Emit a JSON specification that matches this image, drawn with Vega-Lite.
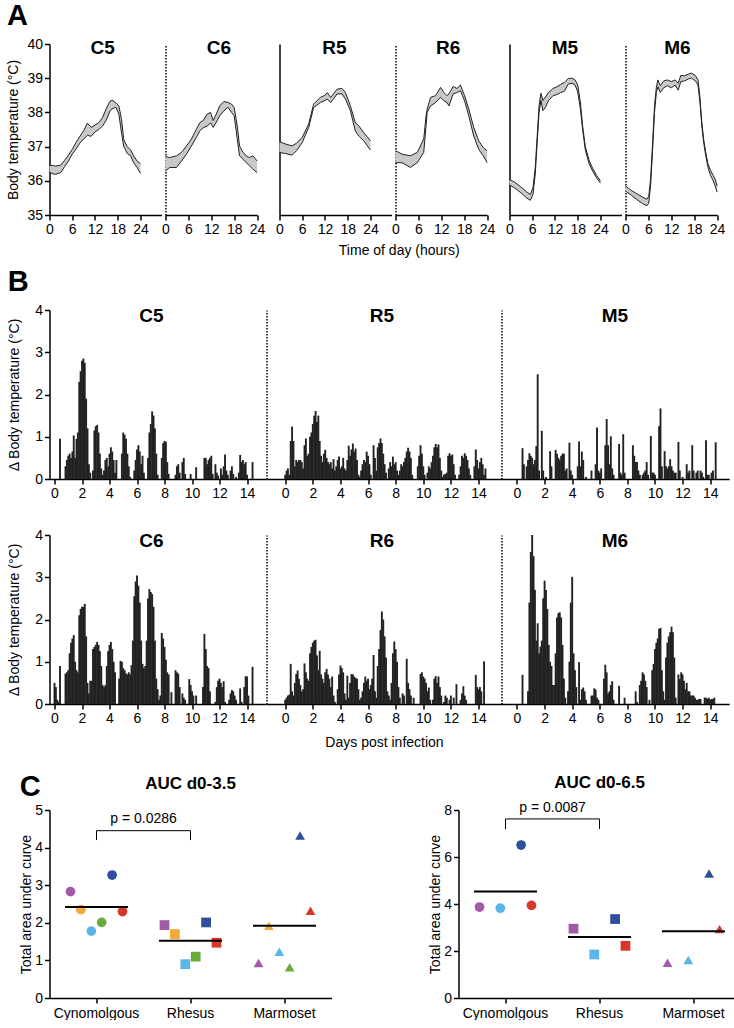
{
"$schema": "https://vega.github.io/schema/vega-lite/v6.json",
"background": "white",
"padding": {"left": 6.5, "top": 2, "right": 0, "bottom": 0},
"config": {
  "font": "Liberation Sans",
  "view": {"stroke": null},
  "axis": {"grid": false, "domainColor": "#000", "domainWidth": 1.5, "tickColor": "#000", "tickWidth": 1.5, "tickSize": 5, "labelColor": "#000", "labelFontSize": 14, "labelFont": "Liberation Sans", "titleFont": "Liberation Sans", "titleFontSize": 14, "titleFontWeight": "normal", "titleColor": "#000", "labelPadding": 2, "labelFlush": false, "labelOverlap": false},
  "title": {"font": "Liberation Sans", "fontWeight": "bold", "color": "#000"},
  "text": {"font": "Liberation Sans", "color": "#000"}
},
"datasets": {
"ta": [
{"p":"C5","h":0,"lo":36.25,"hi":36.45},{"p":"C5","h":1,"lo":36.2,"hi":36.45},{"p":"C5","h":1.6,"lo":36.19,"hi":36.43},{"p":"C5","h":3,"lo":36.24,"hi":36.46},{"p":"C5","h":4,"lo":36.42,"hi":36.6},{"p":"C5","h":5,"lo":36.58,"hi":36.75},{"p":"C5","h":6,"lo":36.78,"hi":36.92},{"p":"C5","h":7,"lo":36.93,"hi":37.12},{"p":"C5","h":8,"lo":37.1,"hi":37.3},{"p":"C5","h":9,"lo":37.22,"hi":37.46},{"p":"C5","h":10,"lo":37.33,"hi":37.69},{"p":"C5","h":11,"lo":37.3,"hi":37.56},{"p":"C5","h":12,"lo":37.43,"hi":37.63},{"p":"C5","h":13,"lo":37.5,"hi":37.7},{"p":"C5","h":14,"lo":37.6,"hi":37.85},{"p":"C5","h":15,"lo":37.78,"hi":38.12},{"p":"C5","h":16,"lo":38.05,"hi":38.33},{"p":"C5","h":16.5,"lo":38.1,"hi":38.36},{"p":"C5","h":17.5,"lo":38.15,"hi":38.28},{"p":"C5","h":18.3,"lo":37.95,"hi":38.19},{"p":"C5","h":19,"lo":37.4,"hi":37.8},{"p":"C5","h":19.6,"lo":37.0,"hi":37.2},{"p":"C5","h":20.5,"lo":36.8,"hi":37.0},{"p":"C5","h":21.4,"lo":36.73,"hi":36.9},{"p":"C5","h":22.2,"lo":36.53,"hi":36.73},{"p":"C5","h":23.1,"lo":36.39,"hi":36.58},{"p":"C5","h":24,"lo":36.22,"hi":36.5},
{"p":"C6","h":0,"lo":36.29,"hi":36.71},{"p":"C6","h":1.1,"lo":36.39,"hi":36.68},{"p":"C6","h":2.9,"lo":36.39,"hi":36.73},{"p":"C6","h":4.2,"lo":36.58,"hi":36.83},{"p":"C6","h":5.5,"lo":36.78,"hi":37.02},{"p":"C6","h":6.8,"lo":37.02,"hi":37.22},{"p":"C6","h":8.1,"lo":37.27,"hi":37.51},{"p":"C6","h":9,"lo":37.46,"hi":37.7},{"p":"C6","h":10,"lo":37.56,"hi":37.78},{"p":"C6","h":10.9,"lo":37.6,"hi":37.95},{"p":"C6","h":11.8,"lo":37.69,"hi":38.0},{"p":"C6","h":12.5,"lo":37.56,"hi":37.76},{"p":"C6","h":13.3,"lo":37.71,"hi":37.95},{"p":"C6","h":14.2,"lo":37.9,"hi":38.19},{"p":"C6","h":15.3,"lo":38.05,"hi":38.32},{"p":"C6","h":16.4,"lo":38.15,"hi":38.29},{"p":"C6","h":17.3,"lo":38.0,"hi":38.24},{"p":"C6","h":18,"lo":37.9,"hi":38.14},{"p":"C6","h":18.8,"lo":37.22,"hi":37.6},{"p":"C6","h":19.4,"lo":36.73,"hi":37.02},{"p":"C6","h":20.3,"lo":36.63,"hi":36.83},{"p":"C6","h":21.2,"lo":36.53,"hi":36.73},{"p":"C6","h":22,"lo":36.44,"hi":36.68},{"p":"C6","h":22.9,"lo":36.34,"hi":36.73},{"p":"C6","h":24,"lo":36.24,"hi":36.58},
{"p":"R5","h":0,"lo":36.83,"hi":37.14},{"p":"R5","h":1.5,"lo":36.8,"hi":37.08},{"p":"R5","h":3.3,"lo":36.75,"hi":37.02},{"p":"R5","h":4.5,"lo":36.88,"hi":37.1},{"p":"R5","h":6,"lo":37.12,"hi":37.27},{"p":"R5","h":7.7,"lo":37.56,"hi":37.66},{"p":"R5","h":9,"lo":38.14,"hi":38.24},{"p":"R5","h":10.8,"lo":38.29,"hi":38.44},{"p":"R5","h":12,"lo":38.35,"hi":38.5},{"p":"R5","h":12.6,"lo":38.39,"hi":38.58},{"p":"R5","h":13.5,"lo":38.29,"hi":38.44},{"p":"R5","h":14.3,"lo":38.4,"hi":38.55},{"p":"R5","h":15.2,"lo":38.54,"hi":38.68},{"p":"R5","h":16.5,"lo":38.54,"hi":38.7},{"p":"R5","h":17.4,"lo":38.39,"hi":38.58},{"p":"R5","h":18.7,"lo":38.05,"hi":38.19},{"p":"R5","h":20,"lo":37.46,"hi":37.7},{"p":"R5","h":20.9,"lo":37.31,"hi":37.61},{"p":"R5","h":22.2,"lo":37.17,"hi":37.41},{"p":"R5","h":24,"lo":36.9,"hi":37.17},
{"p":"R6","h":0,"lo":36.53,"hi":36.88},{"p":"R6","h":1.7,"lo":36.53,"hi":36.78},{"p":"R6","h":3.9,"lo":36.39,"hi":36.73},{"p":"R6","h":5.7,"lo":36.53,"hi":36.83},{"p":"R6","h":7.4,"lo":36.83,"hi":37.22},{"p":"R6","h":8,"lo":37.6,"hi":37.9},{"p":"R6","h":8.3,"lo":38.0,"hi":38.1},{"p":"R6","h":9.2,"lo":38.19,"hi":38.44},{"p":"R6","h":10.5,"lo":38.29,"hi":38.49},{"p":"R6","h":11.8,"lo":38.44,"hi":38.73},{"p":"R6","h":12.7,"lo":38.34,"hi":38.58},{"p":"R6","h":13.5,"lo":38.29,"hi":38.49},{"p":"R6","h":14,"lo":38.19,"hi":38.54},{"p":"R6","h":15.1,"lo":38.54,"hi":38.76},{"p":"R6","h":16.1,"lo":38.58,"hi":38.7},{"p":"R6","h":17,"lo":38.63,"hi":38.8},{"p":"R6","h":18.1,"lo":38.34,"hi":38.49},{"p":"R6","h":19.2,"lo":37.9,"hi":38.1},{"p":"R6","h":20.5,"lo":37.31,"hi":37.56},{"p":"R6","h":21.8,"lo":36.92,"hi":37.17},{"p":"R6","h":23,"lo":36.73,"hi":36.97},{"p":"R6","h":24,"lo":36.53,"hi":36.88},
{"p":"M5","h":0,"lo":35.88,"hi":36.04},{"p":"M5","h":1.5,"lo":35.78,"hi":35.95},{"p":"M5","h":3,"lo":35.65,"hi":35.82},{"p":"M5","h":4.5,"lo":35.5,"hi":35.68},{"p":"M5","h":5.5,"lo":35.43,"hi":35.6},{"p":"M5","h":6.2,"lo":35.6,"hi":35.8},{"p":"M5","h":6.8,"lo":36.2,"hi":36.4},{"p":"M5","h":7.3,"lo":37.1,"hi":37.3},{"p":"M5","h":7.8,"lo":38.0,"hi":38.2},{"p":"M5","h":8.3,"lo":38.35,"hi":38.56},{"p":"M5","h":8.8,"lo":38.05,"hi":38.35},{"p":"M5","h":9.5,"lo":38.15,"hi":38.45},{"p":"M5","h":10.3,"lo":38.35,"hi":38.58},{"p":"M5","h":11.5,"lo":38.49,"hi":38.7},{"p":"M5","h":12.5,"lo":38.52,"hi":38.75},{"p":"M5","h":13.5,"lo":38.58,"hi":38.82},{"p":"M5","h":14.5,"lo":38.62,"hi":38.88},{"p":"M5","h":15.5,"lo":38.83,"hi":38.99},{"p":"M5","h":16.5,"lo":38.85,"hi":39.0},{"p":"M5","h":17.3,"lo":38.8,"hi":38.95},{"p":"M5","h":18,"lo":38.6,"hi":38.8},{"p":"M5","h":18.7,"lo":38.1,"hi":38.3},{"p":"M5","h":19.3,"lo":37.5,"hi":37.6},{"p":"M5","h":20,"lo":36.9,"hi":37.0},{"p":"M5","h":21,"lo":36.5,"hi":36.6},{"p":"M5","h":22,"lo":36.27,"hi":36.35},{"p":"M5","h":23,"lo":36.08,"hi":36.15},{"p":"M5","h":24,"lo":35.93,"hi":36.0},
{"p":"M6","h":0,"lo":35.7,"hi":35.85},{"p":"M6","h":1.5,"lo":35.58,"hi":35.72},{"p":"M6","h":3,"lo":35.45,"hi":35.62},{"p":"M6","h":4.5,"lo":35.33,"hi":35.52},{"p":"M6","h":5.6,"lo":35.27,"hi":35.46},{"p":"M6","h":6.1,"lo":35.35,"hi":35.55},{"p":"M6","h":6.6,"lo":35.9,"hi":36.1},{"p":"M6","h":7.1,"lo":36.9,"hi":37.1},{"p":"M6","h":7.6,"lo":38.0,"hi":38.2},{"p":"M6","h":8.1,"lo":38.6,"hi":38.75},{"p":"M6","h":8.5,"lo":38.75,"hi":38.95},{"p":"M6","h":9.1,"lo":38.58,"hi":38.78},{"p":"M6","h":10,"lo":38.72,"hi":38.92},{"p":"M6","h":11,"lo":38.78,"hi":38.95},{"p":"M6","h":12,"lo":38.72,"hi":38.9},{"p":"M6","h":13,"lo":38.8,"hi":38.95},{"p":"M6","h":13.8,"lo":38.65,"hi":38.85},{"p":"M6","h":14.5,"lo":38.9,"hi":39.08},{"p":"M6","h":15.5,"lo":38.92,"hi":39.07},{"p":"M6","h":16.5,"lo":38.98,"hi":39.12},{"p":"M6","h":17.3,"lo":39.0,"hi":39.15},{"p":"M6","h":18.3,"lo":38.92,"hi":39.08},{"p":"M6","h":19,"lo":38.8,"hi":38.95},{"p":"M6","h":19.5,"lo":38.3,"hi":38.45},{"p":"M6","h":20,"lo":37.6,"hi":37.7},{"p":"M6","h":20.5,"lo":37.1,"hi":37.2},{"p":"M6","h":21,"lo":36.75,"hi":36.85},{"p":"M6","h":21.6,"lo":36.4,"hi":36.5},{"p":"M6","h":22.3,"lo":36.15,"hi":36.3},{"p":"M6","h":23,"lo":36.0,"hi":36.15},{"p":"M6","h":23.5,"lo":35.85,"hi":36.05},{"p":"M6","h":24,"lo":35.67,"hi":35.85}
],
"tb": [
{"p":"C5","d":0.4,"v":0.95},{"p":"C5","d":0.8,"v":0.3},{"p":"C5","d":0.9,"v":0.45},{"p":"C5","d":1.0,"v":0.55},{"p":"C5","d":1.1,"v":0.6},{"p":"C5","d":1.2,"v":0.5},{"p":"C5","d":1.3,"v":0.65},{"p":"C5","d":1.4,"v":1.03},{"p":"C5","d":1.5,"v":0.5},{"p":"C5","d":1.6,"v":0.95},{"p":"C5","d":1.7,"v":1.1},{"p":"C5","d":1.8,"v":2.3},{"p":"C5","d":1.9,"v":2.55},{"p":"C5","d":2.0,"v":2.8},{"p":"C5","d":2.1,"v":2.85},{"p":"C5","d":2.2,"v":2.75},{"p":"C5","d":2.3,"v":1.9},{"p":"C5","d":2.4,"v":1.2},{"p":"C5","d":2.5,"v":0.35},{"p":"C5","d":2.6,"v":0.15},{"p":"C5","d":2.8,"v":0.2},{"p":"C5","d":2.9,"v":1.15},{"p":"C5","d":3.0,"v":1.25},{"p":"C5","d":3.1,"v":1.28},{"p":"C5","d":3.2,"v":1.1},{"p":"C5","d":3.3,"v":0.6},{"p":"C5","d":3.4,"v":0.25},{"p":"C5","d":3.5,"v":0.1},{"p":"C5","d":3.6,"v":0.2},{"p":"C5","d":3.7,"v":0.45},{"p":"C5","d":3.8,"v":0.5},{"p":"C5","d":3.9,"v":0.3},{"p":"C5","d":4.0,"v":0.6},{"p":"C5","d":4.1,"v":0.75},{"p":"C5","d":4.2,"v":0.65},{"p":"C5","d":4.3,"v":0.45},{"p":"C5","d":4.4,"v":0.15},{"p":"C5","d":4.5,"v":0.45},{"p":"C5","d":4.9,"v":0.6},{"p":"C5","d":5.0,"v":1.1},{"p":"C5","d":5.1,"v":1.05},{"p":"C5","d":5.2,"v":0.95},{"p":"C5","d":5.3,"v":0.6},{"p":"C5","d":5.4,"v":0.3},{"p":"C5","d":5.5,"v":0.05},{"p":"C5","d":5.8,"v":0.2},{"p":"C5","d":5.9,"v":0.45},{"p":"C5","d":6.0,"v":0.7},{"p":"C5","d":6.1,"v":0.8},{"p":"C5","d":6.2,"v":0.65},{"p":"C5","d":6.3,"v":0.35},{"p":"C5","d":6.4,"v":0.55},{"p":"C5","d":6.5,"v":0.15},{"p":"C5","d":6.8,"v":0.5},{"p":"C5","d":6.9,"v":1.1},{"p":"C5","d":7.0,"v":1.3},{"p":"C5","d":7.1,"v":1.6},{"p":"C5","d":7.2,"v":1.5},{"p":"C5","d":7.3,"v":1.2},{"p":"C5","d":7.4,"v":0.6},{"p":"C5","d":7.5,"v":0.1},{"p":"C5","d":7.8,"v":0.5},{"p":"C5","d":7.9,"v":0.85},{"p":"C5","d":8.0,"v":0.9},{"p":"C5","d":8.1,"v":0.88},{"p":"C5","d":8.2,"v":0.4},{"p":"C5","d":8.3,"v":0.12},{"p":"C5","d":8.8,"v":0.1},{"p":"C5","d":8.9,"v":0.3},{"p":"C5","d":9.0,"v":0.35},{"p":"C5","d":9.1,"v":0.15},{"p":"C5","d":9.3,"v":0.4},{"p":"C5","d":9.4,"v":0.5},{"p":"C5","d":9.5,"v":0.12},{"p":"C5","d":9.9,"v":0.12},{"p":"C5","d":10.3,"v":0.28},{"p":"C5","d":10.9,"v":0.5},{"p":"C5","d":11.0,"v":0.5},{"p":"C5","d":11.1,"v":0.35},{"p":"C5","d":11.2,"v":0.45},{"p":"C5","d":11.3,"v":0.5},{"p":"C5","d":11.4,"v":0.55},{"p":"C5","d":11.5,"v":0.12},{"p":"C5","d":11.7,"v":0.35},{"p":"C5","d":11.8,"v":0.15},{"p":"C5","d":11.9,"v":0.08},{"p":"C5","d":12.1,"v":0.25},{"p":"C5","d":12.2,"v":0.1},{"p":"C5","d":12.3,"v":0.3},{"p":"C5","d":12.4,"v":0.58},{"p":"C5","d":12.5,"v":0.2},{"p":"C5","d":12.6,"v":0.1},{"p":"C5","d":12.8,"v":0.2},{"p":"C5","d":12.9,"v":0.3},{"p":"C5","d":13.0,"v":0.12},{"p":"C5","d":13.2,"v":0.05},{"p":"C5","d":13.4,"v":0.15},{"p":"C5","d":13.5,"v":0.57},{"p":"C5","d":13.6,"v":0.4},{"p":"C5","d":13.7,"v":0.45},{"p":"C5","d":13.8,"v":0.35},{"p":"C5","d":13.9,"v":0.4},{"p":"C5","d":14.0,"v":0.1},{"p":"C5","d":14.4,"v":0.4},
{"p":"R5","d":0.0,"v":0.1},{"p":"R5","d":0.1,"v":0.2},{"p":"R5","d":0.2,"v":0.25},{"p":"R5","d":0.3,"v":0.1},{"p":"R5","d":0.4,"v":0.9},{"p":"R5","d":0.5,"v":1.24},{"p":"R5","d":0.6,"v":0.9},{"p":"R5","d":0.7,"v":0.3},{"p":"R5","d":0.8,"v":0.45},{"p":"R5","d":0.9,"v":0.4},{"p":"R5","d":1.0,"v":0.45},{"p":"R5","d":1.1,"v":0.45},{"p":"R5","d":1.2,"v":0.4},{"p":"R5","d":1.3,"v":0.25},{"p":"R5","d":1.4,"v":0.8},{"p":"R5","d":1.5,"v":0.96},{"p":"R5","d":1.6,"v":0.55},{"p":"R5","d":1.7,"v":0.6},{"p":"R5","d":1.8,"v":1.0},{"p":"R5","d":1.9,"v":1.1},{"p":"R5","d":2.0,"v":1.3},{"p":"R5","d":2.1,"v":1.5},{"p":"R5","d":2.2,"v":1.61},{"p":"R5","d":2.3,"v":1.35},{"p":"R5","d":2.4,"v":1.5},{"p":"R5","d":2.5,"v":0.9},{"p":"R5","d":2.6,"v":0.55},{"p":"R5","d":2.7,"v":0.4},{"p":"R5","d":2.8,"v":0.6},{"p":"R5","d":2.9,"v":0.69},{"p":"R5","d":3.0,"v":0.5},{"p":"R5","d":3.1,"v":0.4},{"p":"R5","d":3.2,"v":0.35},{"p":"R5","d":3.3,"v":0.4},{"p":"R5","d":3.4,"v":0.25},{"p":"R5","d":3.5,"v":0.47},{"p":"R5","d":3.6,"v":0.2},{"p":"R5","d":3.7,"v":0.3},{"p":"R5","d":3.8,"v":0.45},{"p":"R5","d":3.9,"v":0.53},{"p":"R5","d":4.0,"v":0.25},{"p":"R5","d":4.1,"v":0.3},{"p":"R5","d":4.2,"v":0.5},{"p":"R5","d":4.3,"v":0.25},{"p":"R5","d":4.4,"v":0.2},{"p":"R5","d":4.5,"v":0.45},{"p":"R5","d":4.6,"v":0.79},{"p":"R5","d":4.7,"v":0.55},{"p":"R5","d":4.8,"v":0.7},{"p":"R5","d":4.9,"v":0.84},{"p":"R5","d":5.0,"v":0.65},{"p":"R5","d":5.1,"v":0.72},{"p":"R5","d":5.2,"v":0.45},{"p":"R5","d":5.3,"v":0.1},{"p":"R5","d":5.4,"v":0.05},{"p":"R5","d":5.5,"v":0.2},{"p":"R5","d":5.6,"v":0.35},{"p":"R5","d":5.7,"v":0.45},{"p":"R5","d":5.8,"v":0.4},{"p":"R5","d":5.9,"v":0.65},{"p":"R5","d":6.0,"v":0.55},{"p":"R5","d":6.1,"v":0.35},{"p":"R5","d":6.2,"v":0.1},{"p":"R5","d":6.4,"v":0.8},{"p":"R5","d":6.5,"v":0.5},{"p":"R5","d":6.6,"v":0.2},{"p":"R5","d":6.7,"v":0.75},{"p":"R5","d":6.8,"v":0.85},{"p":"R5","d":6.9,"v":0.96},{"p":"R5","d":7.0,"v":0.85},{"p":"R5","d":7.1,"v":0.6},{"p":"R5","d":7.2,"v":0.35},{"p":"R5","d":7.3,"v":0.15},{"p":"R5","d":7.5,"v":0.25},{"p":"R5","d":7.6,"v":0.4},{"p":"R5","d":7.7,"v":0.3},{"p":"R5","d":7.8,"v":0.53},{"p":"R5","d":7.9,"v":0.35},{"p":"R5","d":8.0,"v":0.4},{"p":"R5","d":8.1,"v":0.2},{"p":"R5","d":8.2,"v":0.1},{"p":"R5","d":8.3,"v":0.2},{"p":"R5","d":8.4,"v":0.35},{"p":"R5","d":8.5,"v":0.3},{"p":"R5","d":8.6,"v":0.4},{"p":"R5","d":8.7,"v":0.5},{"p":"R5","d":8.8,"v":0.65},{"p":"R5","d":8.9,"v":0.74},{"p":"R5","d":9.0,"v":0.65},{"p":"R5","d":9.1,"v":0.5},{"p":"R5","d":9.2,"v":0.1},{"p":"R5","d":9.6,"v":0.3},{"p":"R5","d":9.7,"v":0.55},{"p":"R5","d":9.8,"v":0.8},{"p":"R5","d":9.9,"v":0.6},{"p":"R5","d":10.0,"v":0.3},{"p":"R5","d":10.1,"v":0.1},{"p":"R5","d":10.3,"v":0.15},{"p":"R5","d":10.4,"v":0.3},{"p":"R5","d":10.5,"v":0.25},{"p":"R5","d":10.6,"v":0.4},{"p":"R5","d":10.7,"v":0.55},{"p":"R5","d":10.8,"v":0.75},{"p":"R5","d":10.9,"v":0.83},{"p":"R5","d":11.0,"v":0.75},{"p":"R5","d":11.1,"v":0.82},{"p":"R5","d":11.2,"v":0.5},{"p":"R5","d":11.3,"v":0.2},{"p":"R5","d":11.4,"v":0.05},{"p":"R5","d":11.5,"v":0.1},{"p":"R5","d":11.6,"v":0.12},{"p":"R5","d":11.7,"v":0.15},{"p":"R5","d":11.8,"v":0.55},{"p":"R5","d":11.9,"v":0.61},{"p":"R5","d":12.0,"v":0.55},{"p":"R5","d":12.1,"v":0.58},{"p":"R5","d":12.2,"v":0.35},{"p":"R5","d":12.3,"v":0.1},{"p":"R5","d":12.6,"v":0.1},{"p":"R5","d":12.7,"v":0.3},{"p":"R5","d":12.8,"v":0.55},{"p":"R5","d":12.9,"v":0.5},{"p":"R5","d":13.0,"v":0.61},{"p":"R5","d":13.1,"v":0.55},{"p":"R5","d":13.2,"v":0.45},{"p":"R5","d":13.3,"v":0.25},{"p":"R5","d":13.4,"v":0.1},{"p":"R5","d":13.7,"v":0.3},{"p":"R5","d":13.8,"v":0.7},{"p":"R5","d":13.9,"v":0.45},{"p":"R5","d":14.0,"v":0.25},{"p":"R5","d":14.1,"v":0.4},{"p":"R5","d":14.2,"v":0.5},{"p":"R5","d":14.3,"v":0.35},{"p":"R5","d":14.4,"v":0.1},{"p":"R5","d":14.5,"v":0.25},
{"p":"M5","d":0.4,"v":0.73},{"p":"M5","d":0.5,"v":0.35},{"p":"M5","d":0.7,"v":0.3},{"p":"M5","d":0.8,"v":0.45},{"p":"M5","d":0.9,"v":0.61},{"p":"M5","d":1.0,"v":0.55},{"p":"M5","d":1.1,"v":0.5},{"p":"M5","d":1.2,"v":0.35},{"p":"M5","d":1.3,"v":0.45},{"p":"M5","d":1.4,"v":0.78},{"p":"M5","d":1.5,"v":2.48},{"p":"M5","d":1.6,"v":0.2},{"p":"M5","d":1.8,"v":1.14},{"p":"M5","d":1.9,"v":0.2},{"p":"M5","d":2.1,"v":0.05},{"p":"M5","d":2.4,"v":0.66},{"p":"M5","d":2.5,"v":0.3},{"p":"M5","d":2.8,"v":0.69},{"p":"M5","d":2.9,"v":0.6},{"p":"M5","d":3.0,"v":0.5},{"p":"M5","d":3.1,"v":0.45},{"p":"M5","d":3.2,"v":0.55},{"p":"M5","d":3.3,"v":0.6},{"p":"M5","d":3.4,"v":0.6},{"p":"M5","d":3.5,"v":0.2},{"p":"M5","d":3.6,"v":0.25},{"p":"M5","d":3.8,"v":0.86},{"p":"M5","d":3.9,"v":0.2},{"p":"M5","d":4.0,"v":0.1},{"p":"M5","d":4.4,"v":0.3},{"p":"M5","d":4.5,"v":0.89},{"p":"M5","d":4.6,"v":0.3},{"p":"M5","d":4.7,"v":0.65},{"p":"M5","d":4.8,"v":0.45},{"p":"M5","d":5.0,"v":0.05},{"p":"M5","d":5.4,"v":0.2},{"p":"M5","d":5.7,"v":0.35},{"p":"M5","d":5.8,"v":1.22},{"p":"M5","d":5.9,"v":0.2},{"p":"M5","d":6.0,"v":0.15},{"p":"M5","d":6.1,"v":0.25},{"p":"M5","d":6.4,"v":0.8},{"p":"M5","d":6.5,"v":1.42},{"p":"M5","d":6.6,"v":0.8},{"p":"M5","d":6.7,"v":0.35},{"p":"M5","d":6.8,"v":1.01},{"p":"M5","d":6.9,"v":0.25},{"p":"M5","d":7.0,"v":0.1},{"p":"M5","d":7.4,"v":0.83},{"p":"M5","d":7.5,"v":0.15},{"p":"M5","d":7.6,"v":0.1},{"p":"M5","d":7.7,"v":1.06},{"p":"M5","d":7.8,"v":0.15},{"p":"M5","d":8.4,"v":0.8},{"p":"M5","d":8.5,"v":0.55},{"p":"M5","d":8.6,"v":0.4},{"p":"M5","d":8.7,"v":0.4},{"p":"M5","d":8.8,"v":0.2},{"p":"M5","d":8.9,"v":0.1},{"p":"M5","d":9.1,"v":0.1},{"p":"M5","d":9.2,"v":0.15},{"p":"M5","d":9.3,"v":0.2},{"p":"M5","d":9.4,"v":0.4},{"p":"M5","d":9.5,"v":0.1},{"p":"M5","d":9.7,"v":1.02},{"p":"M5","d":9.8,"v":0.15},{"p":"M5","d":9.9,"v":0.15},{"p":"M5","d":10.0,"v":0.1},{"p":"M5","d":10.3,"v":1.25},{"p":"M5","d":10.4,"v":1.67},{"p":"M5","d":10.5,"v":0.3},{"p":"M5","d":10.7,"v":0.66},{"p":"M5","d":10.8,"v":0.3},{"p":"M5","d":10.9,"v":0.25},{"p":"M5","d":11.0,"v":0.3},{"p":"M5","d":11.1,"v":0.47},{"p":"M5","d":11.2,"v":0.3},{"p":"M5","d":11.3,"v":0.2},{"p":"M5","d":11.4,"v":0.15},{"p":"M5","d":11.5,"v":0.15},{"p":"M5","d":11.7,"v":0.88},{"p":"M5","d":11.8,"v":0.2},{"p":"M5","d":12.0,"v":0.05},{"p":"M5","d":12.3,"v":0.35},{"p":"M5","d":12.4,"v":0.15},{"p":"M5","d":12.5,"v":0.2},{"p":"M5","d":12.7,"v":0.8},{"p":"M5","d":12.8,"v":0.2},{"p":"M5","d":13.0,"v":0.15},{"p":"M5","d":13.1,"v":0.2},{"p":"M5","d":13.3,"v":0.2},{"p":"M5","d":13.4,"v":0.15},{"p":"M5","d":13.5,"v":0.05},{"p":"M5","d":13.7,"v":0.92},{"p":"M5","d":13.8,"v":0.1},{"p":"M5","d":13.9,"v":0.1},{"p":"M5","d":14.1,"v":0.15},{"p":"M5","d":14.2,"v":0.2},{"p":"M5","d":14.4,"v":0.87},
{"p":"C6","d":0.0,"v":0.5},{"p":"C6","d":0.1,"v":0.4},{"p":"C6","d":0.2,"v":0.1},{"p":"C6","d":0.3,"v":0.05},{"p":"C6","d":0.4,"v":0.9},{"p":"C6","d":0.8,"v":0.72},{"p":"C6","d":0.9,"v":0.75},{"p":"C6","d":1.0,"v":0.8},{"p":"C6","d":1.1,"v":1.2},{"p":"C6","d":1.2,"v":1.45},{"p":"C6","d":1.3,"v":1.55},{"p":"C6","d":1.4,"v":1.63},{"p":"C6","d":1.5,"v":1.0},{"p":"C6","d":1.6,"v":0.8},{"p":"C6","d":1.7,"v":0.75},{"p":"C6","d":1.8,"v":2.1},{"p":"C6","d":1.9,"v":2.25},{"p":"C6","d":2.0,"v":2.3},{"p":"C6","d":2.1,"v":2.3},{"p":"C6","d":2.2,"v":2.37},{"p":"C6","d":2.3,"v":1.6},{"p":"C6","d":2.4,"v":0.5},{"p":"C6","d":2.5,"v":0.25},{"p":"C6","d":2.6,"v":0.55},{"p":"C6","d":2.7,"v":0.55},{"p":"C6","d":2.8,"v":1.3},{"p":"C6","d":2.9,"v":1.35},{"p":"C6","d":3.0,"v":1.4},{"p":"C6","d":3.1,"v":1.47},{"p":"C6","d":3.2,"v":1.4},{"p":"C6","d":3.3,"v":1.25},{"p":"C6","d":3.4,"v":0.9},{"p":"C6","d":3.5,"v":0.45},{"p":"C6","d":3.6,"v":0.4},{"p":"C6","d":3.7,"v":0.45},{"p":"C6","d":3.8,"v":0.9},{"p":"C6","d":3.9,"v":1.25},{"p":"C6","d":4.0,"v":1.4},{"p":"C6","d":4.1,"v":1.47},{"p":"C6","d":4.2,"v":1.3},{"p":"C6","d":4.3,"v":1.0},{"p":"C6","d":4.4,"v":0.75},{"p":"C6","d":4.7,"v":0.6},{"p":"C6","d":4.8,"v":1.02},{"p":"C6","d":4.9,"v":1.0},{"p":"C6","d":5.0,"v":0.85},{"p":"C6","d":5.1,"v":0.8},{"p":"C6","d":5.2,"v":0.72},{"p":"C6","d":5.3,"v":0.7},{"p":"C6","d":5.4,"v":0.75},{"p":"C6","d":5.5,"v":0.7},{"p":"C6","d":5.6,"v":0.92},{"p":"C6","d":5.7,"v":1.5},{"p":"C6","d":5.8,"v":2.55},{"p":"C6","d":5.9,"v":2.9},{"p":"C6","d":6.0,"v":3.04},{"p":"C6","d":6.1,"v":2.8},{"p":"C6","d":6.2,"v":2.4},{"p":"C6","d":6.3,"v":1.5},{"p":"C6","d":6.4,"v":0.95},{"p":"C6","d":6.5,"v":0.85},{"p":"C6","d":6.6,"v":0.9},{"p":"C6","d":6.7,"v":1.5},{"p":"C6","d":6.8,"v":2.5},{"p":"C6","d":6.9,"v":2.72},{"p":"C6","d":7.0,"v":2.65},{"p":"C6","d":7.1,"v":2.6},{"p":"C6","d":7.2,"v":2.3},{"p":"C6","d":7.3,"v":1.5},{"p":"C6","d":7.4,"v":0.6},{"p":"C6","d":7.5,"v":0.35},{"p":"C6","d":7.6,"v":0.1},{"p":"C6","d":7.7,"v":0.2},{"p":"C6","d":7.8,"v":1.68},{"p":"C6","d":7.9,"v":1.55},{"p":"C6","d":8.0,"v":1.35},{"p":"C6","d":8.1,"v":1.05},{"p":"C6","d":8.2,"v":0.75},{"p":"C6","d":8.3,"v":0.7},{"p":"C6","d":8.5,"v":0.28},{"p":"C6","d":8.8,"v":0.8},{"p":"C6","d":8.9,"v":0.75},{"p":"C6","d":9.0,"v":0.72},{"p":"C6","d":9.1,"v":0.4},{"p":"C6","d":9.3,"v":0.25},{"p":"C6","d":9.4,"v":0.15},{"p":"C6","d":9.5,"v":0.1},{"p":"C6","d":9.8,"v":0.59},{"p":"C6","d":9.9,"v":0.45},{"p":"C6","d":10.0,"v":0.3},{"p":"C6","d":10.1,"v":0.2},{"p":"C6","d":10.3,"v":0.2},{"p":"C6","d":10.8,"v":0.4},{"p":"C6","d":10.9,"v":1.66},{"p":"C6","d":11.0,"v":1.3},{"p":"C6","d":11.1,"v":0.9},{"p":"C6","d":11.2,"v":0.85},{"p":"C6","d":11.3,"v":0.3},{"p":"C6","d":11.7,"v":0.05},{"p":"C6","d":11.8,"v":0.4},{"p":"C6","d":11.9,"v":0.55},{"p":"C6","d":12.0,"v":0.6},{"p":"C6","d":12.1,"v":0.5},{"p":"C6","d":12.2,"v":0.4},{"p":"C6","d":12.3,"v":0.54},{"p":"C6","d":12.4,"v":0.05},{"p":"C6","d":12.7,"v":0.1},{"p":"C6","d":12.8,"v":0.25},{"p":"C6","d":12.9,"v":0.33},{"p":"C6","d":13.0,"v":0.3},{"p":"C6","d":13.1,"v":0.2},{"p":"C6","d":13.2,"v":0.1},{"p":"C6","d":13.5,"v":0.37},{"p":"C6","d":13.6,"v":0.05},{"p":"C6","d":13.8,"v":0.4},{"p":"C6","d":13.9,"v":0.66},{"p":"C6","d":14.0,"v":0.65},{"p":"C6","d":14.1,"v":0.2},{"p":"C6","d":14.4,"v":0.88},
{"p":"R6","d":0.0,"v":0.1},{"p":"R6","d":0.1,"v":0.15},{"p":"R6","d":0.2,"v":0.2},{"p":"R6","d":0.3,"v":0.22},{"p":"R6","d":0.4,"v":0.95},{"p":"R6","d":0.5,"v":0.3},{"p":"R6","d":0.6,"v":0.2},{"p":"R6","d":0.7,"v":0.5},{"p":"R6","d":0.8,"v":0.71},{"p":"R6","d":0.9,"v":0.79},{"p":"R6","d":1.0,"v":0.6},{"p":"R6","d":1.1,"v":0.45},{"p":"R6","d":1.2,"v":0.3},{"p":"R6","d":1.3,"v":0.35},{"p":"R6","d":1.4,"v":0.96},{"p":"R6","d":1.5,"v":0.75},{"p":"R6","d":1.6,"v":0.6},{"p":"R6","d":1.7,"v":0.55},{"p":"R6","d":1.8,"v":1.2},{"p":"R6","d":1.9,"v":1.35},{"p":"R6","d":2.0,"v":1.45},{"p":"R6","d":2.1,"v":1.5},{"p":"R6","d":2.2,"v":1.52},{"p":"R6","d":2.3,"v":1.15},{"p":"R6","d":2.4,"v":0.8},{"p":"R6","d":2.5,"v":1.26},{"p":"R6","d":2.6,"v":0.7},{"p":"R6","d":2.7,"v":0.6},{"p":"R6","d":2.8,"v":0.5},{"p":"R6","d":2.9,"v":0.75},{"p":"R6","d":3.0,"v":0.83},{"p":"R6","d":3.1,"v":0.7},{"p":"R6","d":3.2,"v":0.6},{"p":"R6","d":3.3,"v":0.4},{"p":"R6","d":3.4,"v":0.65},{"p":"R6","d":3.5,"v":0.2},{"p":"R6","d":3.6,"v":0.05},{"p":"R6","d":3.8,"v":0.35},{"p":"R6","d":3.9,"v":0.7},{"p":"R6","d":4.0,"v":0.91},{"p":"R6","d":4.1,"v":0.85},{"p":"R6","d":4.2,"v":0.75},{"p":"R6","d":4.3,"v":0.25},{"p":"R6","d":4.4,"v":0.1},{"p":"R6","d":4.5,"v":0.67},{"p":"R6","d":4.6,"v":0.15},{"p":"R6","d":4.7,"v":0.5},{"p":"R6","d":4.8,"v":0.71},{"p":"R6","d":4.9,"v":0.7},{"p":"R6","d":5.0,"v":0.65},{"p":"R6","d":5.1,"v":0.62},{"p":"R6","d":5.2,"v":0.6},{"p":"R6","d":5.3,"v":0.35},{"p":"R6","d":5.4,"v":0.1},{"p":"R6","d":5.5,"v":0.15},{"p":"R6","d":5.6,"v":0.3},{"p":"R6","d":5.7,"v":0.5},{"p":"R6","d":5.8,"v":0.65},{"p":"R6","d":5.9,"v":0.55},{"p":"R6","d":6.0,"v":0.6},{"p":"R6","d":6.1,"v":0.35},{"p":"R6","d":6.2,"v":0.45},{"p":"R6","d":6.3,"v":0.6},{"p":"R6","d":6.4,"v":1.16},{"p":"R6","d":6.5,"v":0.3},{"p":"R6","d":6.6,"v":0.15},{"p":"R6","d":6.7,"v":0.9},{"p":"R6","d":6.8,"v":1.3},{"p":"R6","d":6.9,"v":1.75},{"p":"R6","d":7.0,"v":2.19},{"p":"R6","d":7.1,"v":2.0},{"p":"R6","d":7.2,"v":1.6},{"p":"R6","d":7.3,"v":1.1},{"p":"R6","d":7.4,"v":0.3},{"p":"R6","d":7.5,"v":0.2},{"p":"R6","d":7.6,"v":0.1},{"p":"R6","d":7.7,"v":0.5},{"p":"R6","d":7.8,"v":1.2},{"p":"R6","d":7.9,"v":1.48},{"p":"R6","d":8.0,"v":1.3},{"p":"R6","d":8.1,"v":1.0},{"p":"R6","d":8.2,"v":0.4},{"p":"R6","d":8.3,"v":0.15},{"p":"R6","d":8.5,"v":0.25},{"p":"R6","d":8.6,"v":0.2},{"p":"R6","d":8.8,"v":1.07},{"p":"R6","d":8.9,"v":0.5},{"p":"R6","d":9.0,"v":0.35},{"p":"R6","d":9.1,"v":0.2},{"p":"R6","d":9.3,"v":0.15},{"p":"R6","d":9.8,"v":0.71},{"p":"R6","d":9.9,"v":0.75},{"p":"R6","d":10.0,"v":0.65},{"p":"R6","d":10.1,"v":0.6},{"p":"R6","d":10.2,"v":0.5},{"p":"R6","d":10.3,"v":0.3},{"p":"R6","d":10.4,"v":0.39},{"p":"R6","d":10.5,"v":0.1},{"p":"R6","d":10.7,"v":0.1},{"p":"R6","d":10.8,"v":0.6},{"p":"R6","d":10.9,"v":0.66},{"p":"R6","d":11.0,"v":0.5},{"p":"R6","d":11.1,"v":0.65},{"p":"R6","d":11.2,"v":0.4},{"p":"R6","d":11.3,"v":0.2},{"p":"R6","d":11.5,"v":0.05},{"p":"R6","d":11.6,"v":0.2},{"p":"R6","d":11.7,"v":0.15},{"p":"R6","d":11.9,"v":0.1},{"p":"R6","d":12.0,"v":0.2},{"p":"R6","d":12.2,"v":0.15},{"p":"R6","d":12.4,"v":0.47},{"p":"R6","d":12.7,"v":0.1},{"p":"R6","d":12.8,"v":0.25},{"p":"R6","d":12.9,"v":0.42},{"p":"R6","d":13.0,"v":0.2},{"p":"R6","d":13.1,"v":0.1},{"p":"R6","d":13.8,"v":0.69},{"p":"R6","d":13.9,"v":0.4},{"p":"R6","d":14.0,"v":0.35},{"p":"R6","d":14.1,"v":0.4},{"p":"R6","d":14.2,"v":0.3},{"p":"R6","d":14.4,"v":1.01},
{"p":"M6","d":0.4,"v":0.69},{"p":"M6","d":0.8,"v":0.3},{"p":"M6","d":0.9,"v":2.4},{"p":"M6","d":1.0,"v":3.6},{"p":"M6","d":1.1,"v":4.0},{"p":"M6","d":1.2,"v":3.5},{"p":"M6","d":1.3,"v":2.7},{"p":"M6","d":1.4,"v":1.5},{"p":"M6","d":1.5,"v":1.91},{"p":"M6","d":1.6,"v":1.2},{"p":"M6","d":1.7,"v":1.36},{"p":"M6","d":1.8,"v":1.5},{"p":"M6","d":1.9,"v":2.5},{"p":"M6","d":2.0,"v":2.92},{"p":"M6","d":2.1,"v":2.7},{"p":"M6","d":2.2,"v":2.25},{"p":"M6","d":2.3,"v":1.4},{"p":"M6","d":2.4,"v":1.0},{"p":"M6","d":2.5,"v":0.9},{"p":"M6","d":2.6,"v":0.45},{"p":"M6","d":2.7,"v":0.45},{"p":"M6","d":2.8,"v":1.2},{"p":"M6","d":2.9,"v":2.05},{"p":"M6","d":3.0,"v":2.15},{"p":"M6","d":3.1,"v":2.17},{"p":"M6","d":3.2,"v":2.05},{"p":"M6","d":3.3,"v":1.4},{"p":"M6","d":3.4,"v":0.6},{"p":"M6","d":3.5,"v":0.15},{"p":"M6","d":3.7,"v":0.3},{"p":"M6","d":3.8,"v":1.0},{"p":"M6","d":3.9,"v":2.4},{"p":"M6","d":4.0,"v":3.01},{"p":"M6","d":4.1,"v":1.2},{"p":"M6","d":4.2,"v":0.8},{"p":"M6","d":4.3,"v":0.4},{"p":"M6","d":4.5,"v":0.99},{"p":"M6","d":4.6,"v":0.1},{"p":"M6","d":4.7,"v":0.35},{"p":"M6","d":4.8,"v":0.39},{"p":"M6","d":4.9,"v":0.3},{"p":"M6","d":5.0,"v":0.1},{"p":"M6","d":5.4,"v":0.2},{"p":"M6","d":5.5,"v":0.2},{"p":"M6","d":5.6,"v":0.37},{"p":"M6","d":5.7,"v":0.34},{"p":"M6","d":5.8,"v":0.15},{"p":"M6","d":5.9,"v":0.1},{"p":"M6","d":6.3,"v":0.6},{"p":"M6","d":6.4,"v":0.93},{"p":"M6","d":6.5,"v":0.75},{"p":"M6","d":6.6,"v":0.25},{"p":"M6","d":6.7,"v":0.3},{"p":"M6","d":6.8,"v":0.45},{"p":"M6","d":6.9,"v":0.54},{"p":"M6","d":7.0,"v":0.1},{"p":"M6","d":7.4,"v":0.43},{"p":"M6","d":7.8,"v":0.15},{"p":"M6","d":8.6,"v":0.3},{"p":"M6","d":8.7,"v":0.05},{"p":"M6","d":8.9,"v":0.45},{"p":"M6","d":9.0,"v":0.55},{"p":"M6","d":9.1,"v":0.75},{"p":"M6","d":9.2,"v":0.7},{"p":"M6","d":9.3,"v":0.55},{"p":"M6","d":9.4,"v":0.4},{"p":"M6","d":9.6,"v":0.1},{"p":"M6","d":9.8,"v":0.8},{"p":"M6","d":9.9,"v":0.95},{"p":"M6","d":10.0,"v":1.3},{"p":"M6","d":10.1,"v":1.45},{"p":"M6","d":10.2,"v":1.55},{"p":"M6","d":10.3,"v":1.78},{"p":"M6","d":10.4,"v":1.8},{"p":"M6","d":10.5,"v":0.8},{"p":"M6","d":10.6,"v":0.3},{"p":"M6","d":10.7,"v":0.1},{"p":"M6","d":10.8,"v":1.1},{"p":"M6","d":10.9,"v":1.45},{"p":"M6","d":11.0,"v":1.6},{"p":"M6","d":11.1,"v":1.7},{"p":"M6","d":11.2,"v":1.83},{"p":"M6","d":11.3,"v":1.7},{"p":"M6","d":11.4,"v":1.1},{"p":"M6","d":11.5,"v":0.15},{"p":"M6","d":11.7,"v":0.7},{"p":"M6","d":11.8,"v":0.59},{"p":"M6","d":11.9,"v":0.75},{"p":"M6","d":12.0,"v":0.7},{"p":"M6","d":12.1,"v":0.55},{"p":"M6","d":12.2,"v":0.35},{"p":"M6","d":12.3,"v":0.5},{"p":"M6","d":12.4,"v":0.3},{"p":"M6","d":12.5,"v":0.3},{"p":"M6","d":12.6,"v":0.2},{"p":"M6","d":12.7,"v":0.2},{"p":"M6","d":12.8,"v":0.2},{"p":"M6","d":12.9,"v":0.15},{"p":"M6","d":13.0,"v":0.1},{"p":"M6","d":13.1,"v":0.1},{"p":"M6","d":13.2,"v":0.12},{"p":"M6","d":13.3,"v":0.12},{"p":"M6","d":13.6,"v":0.15},{"p":"M6","d":13.7,"v":0.15},{"p":"M6","d":13.8,"v":0.12},{"p":"M6","d":13.9,"v":0.15},{"p":"M6","d":14.0,"v":0.1},{"p":"M6","d":14.1,"v":0.12},{"p":"M6","d":14.2,"v":0.12},{"p":"M6","d":14.3,"v":0.15}
],
"auc": [
{"w":"d0-3.5","g":"Cynomolgous","a":"darkblue","v":3.27},{"w":"d0-3.5","g":"Cynomolgous","a":"purple","v":2.83},{"w":"d0-3.5","g":"Cynomolgous","a":"orange","v":2.35},{"w":"d0-3.5","g":"Cynomolgous","a":"red","v":2.3},{"w":"d0-3.5","g":"Cynomolgous","a":"green","v":2.01},{"w":"d0-3.5","g":"Cynomolgous","a":"lightblue","v":1.78},
{"w":"d0-3.5","g":"Rhesus","a":"purple","v":1.94},{"w":"d0-3.5","g":"Rhesus","a":"orange","v":1.7},{"w":"d0-3.5","g":"Rhesus","a":"darkblue","v":2.01},{"w":"d0-3.5","g":"Rhesus","a":"red","v":1.47},{"w":"d0-3.5","g":"Rhesus","a":"green","v":1.1},{"w":"d0-3.5","g":"Rhesus","a":"lightblue","v":0.9},
{"w":"d0-3.5","g":"Marmoset","a":"darkblue","v":4.32},{"w":"d0-3.5","g":"Marmoset","a":"red","v":2.32},{"w":"d0-3.5","g":"Marmoset","a":"orange","v":1.92},{"w":"d0-3.5","g":"Marmoset","a":"lightblue","v":1.23},{"w":"d0-3.5","g":"Marmoset","a":"green","v":0.82},{"w":"d0-3.5","g":"Marmoset","a":"purple","v":0.93},
{"w":"d0-6.5","g":"Cynomolgous","a":"darkblue","v":6.51},{"w":"d0-6.5","g":"Cynomolgous","a":"red","v":3.94},{"w":"d0-6.5","g":"Cynomolgous","a":"lightblue","v":3.82},{"w":"d0-6.5","g":"Cynomolgous","a":"purple","v":3.87},
{"w":"d0-6.5","g":"Rhesus","a":"darkblue","v":3.36},{"w":"d0-6.5","g":"Rhesus","a":"purple","v":2.95},{"w":"d0-6.5","g":"Rhesus","a":"red","v":2.22},{"w":"d0-6.5","g":"Rhesus","a":"lightblue","v":1.85},
{"w":"d0-6.5","g":"Marmoset","a":"darkblue","v":5.3},{"w":"d0-6.5","g":"Marmoset","a":"red","v":2.93},{"w":"d0-6.5","g":"Marmoset","a":"purple","v":1.5},{"w":"d0-6.5","g":"Marmoset","a":"lightblue","v":1.62}
]
},
"spacing": 10,
"vconcat": [
{
 "title": {"text": "A", "anchor": "start", "fontSize": 29, "offset": 6},
 "spacing": 10,
 "hconcat": [
  {"spacing": 0, "hconcat": [
   {"width": 112, "height": 171, "data": {"name": "ta"}, "transform": [{"filter": "datum.p === 'C5'"}],
    "layer": [
     {"mark": {"type": "area", "color": "#c8c8c8"}, "encoding": {"x": {"field": "h", "type": "quantitative", "scale": {"domain": [0, 29.55], "nice": false, "zero": false}, "axis": {"values": [0, 6, 12, 18, 24], "tickCount": 20, "format": "d", "title": null, "labelOverlap": false}}, "y": {"field": "lo", "type": "quantitative", "scale": {"domain": [35, 40], "nice": false, "zero": false}, "axis": {"values": [35, 36, 37, 38, 39, 40], "tickCount": 20, "format": "d", "title": "Body temperature (°C)", "titlePadding": 6, "labelOverlap": false}}, "y2": {"field": "hi"}}},
     {"mark": {"type": "line", "color": "#222", "strokeWidth": 1}, "encoding": {"x": {"field": "h", "type": "quantitative"}, "y": {"field": "hi", "type": "quantitative"}}},
     {"mark": {"type": "line", "color": "#222", "strokeWidth": 1}, "encoding": {"x": {"field": "h", "type": "quantitative"}, "y": {"field": "lo", "type": "quantitative"}}},
     {"data": {"values": [{"p": "C5", "t": "C5"}]}, "mark": {"type": "text", "fontSize": 19, "fontWeight": "bold", "baseline": "middle"}, "encoding": {"x": {"datum": 14}, "y": {"datum": 39.87}, "text": {"field": "t"}}}
    ]},
   {"width": 91.6, "height": 171, "data": {"name": "ta"}, "transform": [{"filter": "datum.p === 'C6'"}],
    "layer": [
     {"mark": {"type": "area", "color": "#c8c8c8"}, "encoding": {"x": {"field": "h", "type": "quantitative", "scale": {"domain": [0, 24], "nice": false, "zero": false}, "axis": {"values": [0, 6, 12, 18, 24], "tickCount": 20, "format": "d", "title": null, "labelOverlap": false}}, "y": {"field": "lo", "type": "quantitative", "scale": {"domain": [35, 40], "nice": false, "zero": false}, "axis": {"labels": false, "ticks": false, "title": null, "domainDash": [1.5, 1.5]}}, "y2": {"field": "hi"}}},
     {"mark": {"type": "line", "color": "#222", "strokeWidth": 1}, "encoding": {"x": {"field": "h", "type": "quantitative"}, "y": {"field": "hi", "type": "quantitative"}}},
     {"mark": {"type": "line", "color": "#222", "strokeWidth": 1}, "encoding": {"x": {"field": "h", "type": "quantitative"}, "y": {"field": "lo", "type": "quantitative"}}},
     {"data": {"values": [{"p": "C6", "t": "C6"}]}, "mark": {"type": "text", "fontSize": 19, "fontWeight": "bold", "baseline": "middle"}, "encoding": {"x": {"datum": 14}, "y": {"datum": 39.87}, "text": {"field": "t"}}}
    ]}
  ]},
  {"spacing": 0,
   "title": {"text": "Time of day (hours)", "orient": "bottom", "anchor": "middle", "fontSize": 14, "fontWeight": "normal", "offset": 8, "dx": 14},
   "hconcat": [
   {"width": 112, "height": 171, "data": {"name": "ta"}, "transform": [{"filter": "datum.p === 'R5'"}],
    "layer": [
     {"mark": {"type": "area", "color": "#c8c8c8"}, "encoding": {"x": {"field": "h", "type": "quantitative", "scale": {"domain": [0, 29.55], "nice": false, "zero": false}, "axis": {"values": [0, 6, 12, 18, 24], "tickCount": 20, "format": "d", "title": null, "labelOverlap": false}}, "y": {"field": "lo", "type": "quantitative", "scale": {"domain": [35, 40], "nice": false, "zero": false}, "axis": {"labels": false, "ticks": false, "title": null}}, "y2": {"field": "hi"}}},
     {"mark": {"type": "line", "color": "#222", "strokeWidth": 1}, "encoding": {"x": {"field": "h", "type": "quantitative"}, "y": {"field": "hi", "type": "quantitative"}}},
     {"mark": {"type": "line", "color": "#222", "strokeWidth": 1}, "encoding": {"x": {"field": "h", "type": "quantitative"}, "y": {"field": "lo", "type": "quantitative"}}},
     {"data": {"values": [{"p": "R5", "t": "R5"}]}, "mark": {"type": "text", "fontSize": 19, "fontWeight": "bold", "baseline": "middle"}, "encoding": {"x": {"datum": 14.5}, "y": {"datum": 39.87}, "text": {"field": "t"}}}
    ]},
   {"width": 91.6, "height": 171, "data": {"name": "ta"}, "transform": [{"filter": "datum.p === 'R6'"}],
    "layer": [
     {"mark": {"type": "area", "color": "#c8c8c8"}, "encoding": {"x": {"field": "h", "type": "quantitative", "scale": {"domain": [0, 24], "nice": false, "zero": false}, "axis": {"values": [0, 6, 12, 18, 24], "tickCount": 20, "format": "d", "title": null, "labelOverlap": false}}, "y": {"field": "lo", "type": "quantitative", "scale": {"domain": [35, 40], "nice": false, "zero": false}, "axis": {"labels": false, "ticks": false, "title": null, "domainDash": [1.5, 1.5]}}, "y2": {"field": "hi"}}},
     {"mark": {"type": "line", "color": "#222", "strokeWidth": 1}, "encoding": {"x": {"field": "h", "type": "quantitative"}, "y": {"field": "hi", "type": "quantitative"}}},
     {"mark": {"type": "line", "color": "#222", "strokeWidth": 1}, "encoding": {"x": {"field": "h", "type": "quantitative"}, "y": {"field": "lo", "type": "quantitative"}}},
     {"data": {"values": [{"p": "R6", "t": "R6"}]}, "mark": {"type": "text", "fontSize": 19, "fontWeight": "bold", "baseline": "middle"}, "encoding": {"x": {"datum": 13.8}, "y": {"datum": 39.87}, "text": {"field": "t"}}}
    ]}
  ]},
  {"spacing": 0, "hconcat": [
   {"width": 112, "height": 171, "data": {"name": "ta"}, "transform": [{"filter": "datum.p === 'M5'"}],
    "layer": [
     {"mark": {"type": "area", "color": "#c8c8c8"}, "encoding": {"x": {"field": "h", "type": "quantitative", "scale": {"domain": [0, 29.55], "nice": false, "zero": false}, "axis": {"values": [0, 6, 12, 18, 24], "tickCount": 20, "format": "d", "title": null, "labelOverlap": false}}, "y": {"field": "lo", "type": "quantitative", "scale": {"domain": [35, 40], "nice": false, "zero": false}, "axis": {"labels": false, "ticks": false, "title": null}}, "y2": {"field": "hi"}}},
     {"mark": {"type": "line", "color": "#222", "strokeWidth": 1}, "encoding": {"x": {"field": "h", "type": "quantitative"}, "y": {"field": "hi", "type": "quantitative"}}},
     {"mark": {"type": "line", "color": "#222", "strokeWidth": 1}, "encoding": {"x": {"field": "h", "type": "quantitative"}, "y": {"field": "lo", "type": "quantitative"}}},
     {"data": {"values": [{"p": "M5", "t": "M5"}]}, "mark": {"type": "text", "fontSize": 19, "fontWeight": "bold", "baseline": "middle"}, "encoding": {"x": {"datum": 14.6}, "y": {"datum": 39.87}, "text": {"field": "t"}}}
    ]},
   {"width": 91.6, "height": 171, "data": {"name": "ta"}, "transform": [{"filter": "datum.p === 'M6'"}],
    "layer": [
     {"mark": {"type": "area", "color": "#c8c8c8"}, "encoding": {"x": {"field": "h", "type": "quantitative", "scale": {"domain": [0, 24], "nice": false, "zero": false}, "axis": {"values": [0, 6, 12, 18, 24], "tickCount": 20, "format": "d", "title": null, "labelOverlap": false}}, "y": {"field": "lo", "type": "quantitative", "scale": {"domain": [35, 40], "nice": false, "zero": false}, "axis": {"labels": false, "ticks": false, "title": null, "domainDash": [1.5, 1.5]}}, "y2": {"field": "hi"}}},
     {"mark": {"type": "line", "color": "#222", "strokeWidth": 1}, "encoding": {"x": {"field": "h", "type": "quantitative"}, "y": {"field": "hi", "type": "quantitative"}}},
     {"mark": {"type": "line", "color": "#222", "strokeWidth": 1}, "encoding": {"x": {"field": "h", "type": "quantitative"}, "y": {"field": "lo", "type": "quantitative"}}},
     {"data": {"values": [{"p": "M6", "t": "M6"}]}, "mark": {"type": "text", "fontSize": 19, "fontWeight": "bold", "baseline": "middle"}, "encoding": {"x": {"datum": 13.6}, "y": {"datum": 39.87}, "text": {"field": "t"}}}
    ]}
  ]}
 ]
},
{
 "spacing": 24,
 "vconcat": [
 {
  "title": {"text": "B", "anchor": "start", "fontSize": 29, "offset": 6},
  "spacing": 28,
  "vconcat": [
   {"spacing": 0, "hconcat": [
    {"width": 216.7, "height": 169, "data": {"name": "tb"}, "transform": [{"filter": "datum.p === 'C5'"}],
     "layer": [
      {"mark": {"type": "bar", "width": 1.9, "color": "#222"}, "encoding": {"x": {"field": "d", "type": "quantitative", "scale": {"domain": [0, 15.03], "nice": false, "zero": false}, "axis": {"values": [0, 2, 4, 6, 8, 10, 12, 14], "tickCount": 20, "format": "d", "title": null, "labelOverlap": false}}, "y": {"field": "v", "type": "quantitative", "scale": {"domain": [0, 4], "nice": false}, "axis": {"values": [0, 1, 2, 3, 4], "tickCount": 20, "format": "d", "title": "Δ Body temperature (°C)", "titlePadding": 13, "labelOverlap": false}}}},
      {"data": {"values": [{"p": "C5", "t": "C5"}]}, "mark": {"type": "text", "fontSize": 19, "fontWeight": "bold", "baseline": "middle"}, "encoding": {"x": {"datum": 7.05}, "y": {"datum": 3.85}, "text": {"field": "t"}}}
     ]},
    {"width": 235, "height": 169, "data": {"name": "tb"}, "transform": [{"filter": "datum.p === 'R5'"}],
     "layer": [
      {"mark": {"type": "bar", "width": 1.9, "color": "#222"}, "encoding": {"x": {"field": "d", "type": "quantitative", "scale": {"domain": [-0.99, 15.3], "nice": false, "zero": false}, "axis": {"values": [0, 2, 4, 6, 8, 10, 12, 14], "tickCount": 20, "format": "d", "title": null, "labelOverlap": false}}, "y": {"field": "v", "type": "quantitative", "scale": {"domain": [0, 4], "nice": false}, "axis": {"labels": false, "ticks": false, "title": null, "domainDash": [1.5, 1.5]}}}},
      {"data": {"values": [{"p": "R5", "t": "R5"}]}, "mark": {"type": "text", "fontSize": 19, "fontWeight": "bold", "baseline": "middle"}, "encoding": {"x": {"datum": 7.0}, "y": {"datum": 3.85}, "text": {"field": "t"}}}
     ]},
    {"width": 227.6, "height": 169, "data": {"name": "tb"}, "transform": [{"filter": "datum.p === 'M5'"}],
     "layer": [
      {"mark": {"type": "bar", "width": 1.9, "color": "#222"}, "encoding": {"x": {"field": "d", "type": "quantitative", "scale": {"domain": [-0.76, 15.01], "nice": false, "zero": false}, "axis": {"values": [0, 2, 4, 6, 8, 10, 12, 14], "tickCount": 20, "format": "d", "title": null, "labelOverlap": false}}, "y": {"field": "v", "type": "quantitative", "scale": {"domain": [0, 4], "nice": false}, "axis": {"labels": false, "ticks": false, "title": null, "domainDash": [1.5, 1.5]}}}},
      {"data": {"values": [{"p": "M5", "t": "M5"}]}, "mark": {"type": "text", "fontSize": 19, "fontWeight": "bold", "baseline": "middle"}, "encoding": {"x": {"datum": 7.1}, "y": {"datum": 3.85}, "text": {"field": "t"}}}
     ]}
   ]},
   {"spacing": 0, "hconcat": [
    {"width": 216.7, "height": 169, "data": {"name": "tb"}, "transform": [{"filter": "datum.p === 'C6'"}],
     "layer": [
      {"mark": {"type": "bar", "width": 1.9, "color": "#222"}, "encoding": {"x": {"field": "d", "type": "quantitative", "scale": {"domain": [0, 15.03], "nice": false, "zero": false}, "axis": {"values": [0, 2, 4, 6, 8, 10, 12, 14], "tickCount": 20, "format": "d", "title": null, "labelOverlap": false}}, "y": {"field": "v", "type": "quantitative", "scale": {"domain": [0, 4], "nice": false}, "axis": {"values": [0, 1, 2, 3, 4], "tickCount": 20, "format": "d", "title": "Δ Body temperature (°C)", "titlePadding": 13, "labelOverlap": false}}}},
      {"data": {"values": [{"p": "C6", "t": "C6"}]}, "mark": {"type": "text", "fontSize": 19, "fontWeight": "bold", "baseline": "middle"}, "encoding": {"x": {"datum": 7.05}, "y": {"datum": 3.86}, "text": {"field": "t"}}}
     ]},
    {"width": 235, "height": 169, "data": {"name": "tb"}, "transform": [{"filter": "datum.p === 'R6'"}],
     "layer": [
      {"mark": {"type": "bar", "width": 1.9, "color": "#222"}, "encoding": {"x": {"field": "d", "type": "quantitative", "scale": {"domain": [-0.99, 15.3], "nice": false, "zero": false}, "axis": {"values": [0, 2, 4, 6, 8, 10, 12, 14], "tickCount": 20, "format": "d", "title": "Days post infection", "titlePadding": 10, "labelOverlap": false}}, "y": {"field": "v", "type": "quantitative", "scale": {"domain": [0, 4], "nice": false}, "axis": {"labels": false, "ticks": false, "title": null, "domainDash": [1.5, 1.5]}}}},
      {"data": {"values": [{"p": "R6", "t": "R6"}]}, "mark": {"type": "text", "fontSize": 19, "fontWeight": "bold", "baseline": "middle"}, "encoding": {"x": {"datum": 7.0}, "y": {"datum": 3.86}, "text": {"field": "t"}}}
     ]},
    {"width": 227.6, "height": 169, "data": {"name": "tb"}, "transform": [{"filter": "datum.p === 'M6'"}],
     "layer": [
      {"mark": {"type": "bar", "width": 1.9, "color": "#222"}, "encoding": {"x": {"field": "d", "type": "quantitative", "scale": {"domain": [-0.76, 15.01], "nice": false, "zero": false}, "axis": {"values": [0, 2, 4, 6, 8, 10, 12, 14], "tickCount": 20, "format": "d", "title": null, "labelOverlap": false}}, "y": {"field": "v", "type": "quantitative", "scale": {"domain": [0, 4], "nice": false}, "axis": {"labels": false, "ticks": false, "title": null, "domainDash": [1.5, 1.5]}}}},
      {"data": {"values": [{"p": "M6", "t": "M6"}]}, "mark": {"type": "text", "fontSize": 19, "fontWeight": "bold", "baseline": "middle"}, "encoding": {"x": {"datum": 7.1}, "y": {"datum": 3.86}, "text": {"field": "t"}}}
     ]}
   ]}
  ]
 },
 {
  "title": {"text": "C", "anchor": "start", "fontSize": 29, "offset": -28},
  "spacing": 97,
  "hconcat": [
   {"width": 282, "height": 188,
    "title": {"text": "AUC d0-3.5", "fontSize": 17, "offset": 10},
    "data": {"name": "auc"}, "transform": [{"filter": "datum.w === 'd0-3.5'"}],
    "layer": [
     {"mark": {"type": "point", "filled": true, "size": 95, "opacity": 1},
      "encoding": {
       "x": {"field": "g", "type": "nominal", "scale": {"domain": ["Cynomolgous", "Rhesus", "Marmoset"], "paddingInner": 0, "paddingOuter": 0}, "axis": {"title": null, "labelAngle": 0, "labelPadding": 3}},
       "xOffset": {"field": "a", "type": "nominal", "scale": {"domain": ["purple", "orange", "lightblue", "green", "darkblue", "red"], "range": [21, 73], "paddingInner": 0, "paddingOuter": 0}},
       "y": {"field": "v", "type": "quantitative", "scale": {"domain": [0, 5], "nice": false}, "axis": {"values": [0, 1, 2, 3, 4, 5], "tickCount": 20, "format": "d", "title": "Total area under curve", "titlePadding": 1, "labelOverlap": false}},
       "color": {"field": "a", "type": "nominal", "scale": {"domain": ["darkblue", "purple", "orange", "red", "green", "lightblue"], "range": ["#2f4f9e", "#a15aa7", "#f2aa38", "#d7372b", "#6aab3b", "#5cb5e9"]}, "legend": null},
       "shape": {"field": "g", "type": "nominal", "scale": {"domain": ["Cynomolgous", "Rhesus", "Marmoset"], "range": ["circle", "square", "triangle-up"]}, "legend": null}}},
     {"mark": {"type": "tick", "color": "#000", "size": 63, "thickness": 2},
      "encoding": {"x": {"field": "g", "type": "nominal"}, "y": {"aggregate": "mean", "field": "v", "type": "quantitative"}}},
     {"data": {"values": [{"w": "d0-3.5"}]}, "mark": {"type": "rule", "color": "#000", "strokeWidth": 1},
      "encoding": {"x": {"datum": "Cynomolgous"}, "x2": {"datum": "Rhesus"}, "y": {"datum": 4.45}}},
     {"data": {"values": [{"w": "d0-3.5", "g": "Cynomolgous"}, {"w": "d0-3.5", "g": "Rhesus"}]}, "mark": {"type": "rule", "color": "#000", "strokeWidth": 1},
      "encoding": {"x": {"field": "g", "type": "nominal"}, "y": {"datum": 4.2}, "y2": {"datum": 4.45}}},
     {"data": {"values": [{"w": "d0-3.5", "t": "p = 0.0286"}]}, "mark": {"type": "text", "fontSize": 14, "baseline": "middle"},
      "encoding": {"x": {"datum": "Cynomolgous", "bandPosition": 1}, "y": {"datum": 4.76}, "text": {"field": "t"}}}
    ]},
   {"width": 282, "height": 188,
    "title": {"text": "AUC d0-6.5", "fontSize": 17, "offset": 9},
    "data": {"name": "auc"}, "transform": [{"filter": "datum.w === 'd0-6.5'"}],
    "layer": [
     {"mark": {"type": "point", "filled": true, "size": 95, "opacity": 1},
      "encoding": {
       "x": {"field": "g", "type": "nominal", "scale": {"domain": ["Cynomolgous", "Rhesus", "Marmoset"], "paddingInner": 0, "paddingOuter": 0}, "axis": {"title": null, "labelAngle": 0, "labelPadding": 3}},
       "xOffset": {"field": "a", "type": "nominal", "scale": {"domain": ["red", "lightblue", "darkblue", "purple"], "range": [23, 71], "paddingInner": 0, "paddingOuter": 0}},
       "y": {"field": "v", "type": "quantitative", "scale": {"domain": [0, 8], "nice": false}, "axis": {"values": [0, 2, 4, 6, 8], "tickCount": 20, "format": "d", "title": "Total area under curve", "titlePadding": 1, "labelOverlap": false}},
       "color": {"field": "a", "type": "nominal", "scale": {"domain": ["darkblue", "purple", "orange", "red", "green", "lightblue"], "range": ["#2f4f9e", "#a15aa7", "#f2aa38", "#d7372b", "#6aab3b", "#5cb5e9"]}, "legend": null},
       "shape": {"field": "g", "type": "nominal", "scale": {"domain": ["Cynomolgous", "Rhesus", "Marmoset"], "range": ["circle", "square", "triangle-up"]}, "legend": null}}},
     {"mark": {"type": "tick", "color": "#000", "size": 63, "thickness": 2},
      "encoding": {"x": {"field": "g", "type": "nominal"}, "y": {"aggregate": "mean", "field": "v", "type": "quantitative"}}},
     {"data": {"values": [{"w": "d0-6.5"}]}, "mark": {"type": "rule", "color": "#000", "strokeWidth": 1},
      "encoding": {"x": {"datum": "Cynomolgous"}, "x2": {"datum": "Rhesus"}, "y": {"datum": 7.62}}},
     {"data": {"values": [{"w": "d0-6.5", "g": "Cynomolgous"}, {"w": "d0-6.5", "g": "Rhesus"}]}, "mark": {"type": "rule", "color": "#000", "strokeWidth": 1},
      "encoding": {"x": {"field": "g", "type": "nominal"}, "y": {"datum": 7.19}, "y2": {"datum": 7.62}}},
     {"data": {"values": [{"w": "d0-6.5", "t": "p = 0.0087"}]}, "mark": {"type": "text", "fontSize": 14, "baseline": "middle"},
      "encoding": {"x": {"datum": "Cynomolgous", "bandPosition": 1}, "y": {"datum": 8.08}, "text": {"field": "t"}}}
    ]}
  ]
 }
 ]
}
]
}
